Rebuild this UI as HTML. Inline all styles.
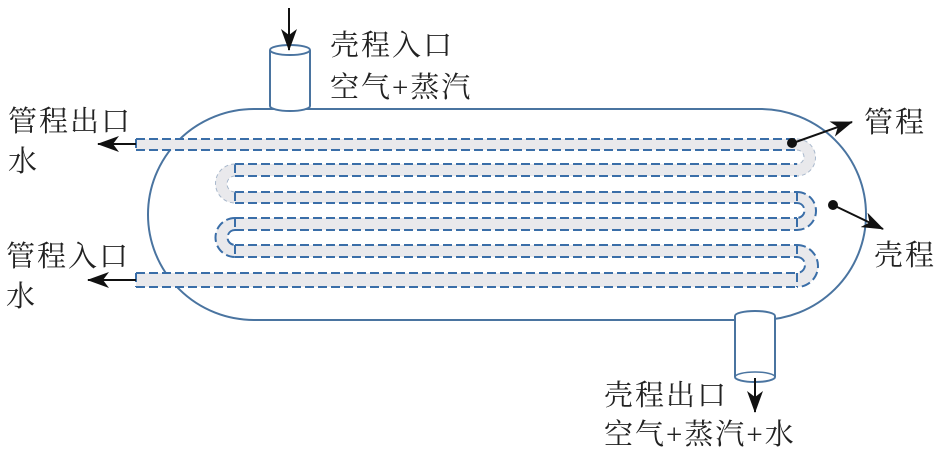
<!DOCTYPE html>
<html><head><meta charset="utf-8"><style>
html,body{margin:0;padding:0;background:#fff;}
svg{display:block;}
text{font-family:"Liberation Serif","Noto Serif CJK SC",serif;font-size:29px;fill:#222;letter-spacing:2px;}
</style></head><body>
<svg width="945" height="461" viewBox="0 0 945 461" xmlns="http://www.w3.org/2000/svg">
<defs>
<marker id="ah2" markerWidth="22" markerHeight="16" refX="21" refY="8" orient="auto" markerUnits="userSpaceOnUse">
<path d="M0,0 L22,8 L0,16 L6,8 Z" fill="#111"/>
</marker>
</defs>
<rect x="148" y="109" width="718" height="211" rx="106" ry="106" fill="#fff" stroke="#4a74a0" stroke-width="2"/>

<g fill="#e9e9ec">
<path d="M797,139 A18.5,18.5 0 0 1 797,176 L797,164 A6,6 0 0 0 797,150 Z"/>
<path d="M235,164 A19.5,19.5 0 0 0 235,203 L235,192 A8,8 0 0 1 235,176 Z"/>
<path d="M797,192 A19,19 0 0 1 797,230 L797,218 A7.5,7.5 0 0 0 797,203 Z"/>
<path d="M235,218 A19.5,19.5 0 0 0 235,257 L235,245 A7.5,7.5 0 0 1 235,230 Z"/>
<path d="M797,245 A21,21 0 0 1 797,287 L797,273 A8,8 0 0 0 797,257 Z"/>
<rect x="136" y="139" width="661" height="11"/>
<rect x="235" y="164" width="562" height="12"/>
<rect x="235" y="192" width="562" height="11"/>
<rect x="235" y="218" width="562" height="12"/>
<rect x="235" y="245" width="562" height="12"/>
<rect x="136" y="273" width="661" height="14"/>
</g>
<g stroke="#3a6ea8" stroke-width="2" stroke-dasharray="9,4" fill="none">
<path d="M136,139 H797 M136,150 H797 M235,164 H797 M235,176 H797 M235,192 H797 M235,203 H797 M235,218 H797 M235,230 H797 M235,245 H797 M235,257 H797 M136,273 H797 M136,287 H797"/>
<path d="M136,139 V150 M136,273 V287 M235,164 V176 M235,192 V203 M235,218 V230 M235,245 V257 M797,192 V203 M797,218 V230 M797,245 V257 M797,273 V287"/>
<path d="M797,192 A19,19 0 0 1 797,230 M797,203 A7.5,7.5 0 0 1 797,218"/>
<path d="M235,218 A19.5,19.5 0 0 0 235,257 M235,230 A7.5,7.5 0 0 0 235,245"/>
<path d="M797,245 A21,21 0 0 1 797,287 M797,257 A8,8 0 0 1 797,273"/>
</g>
<g stroke="#a8b8cc" stroke-width="1" stroke-dasharray="4,3" fill="none">
<path d="M797,139 A18.5,18.5 0 0 1 797,176 M797,150 A6,6 0 0 1 797,164"/>
<path d="M235,164 A19.5,19.5 0 0 0 235,203 M235,176 A8,8 0 0 0 235,192"/>
</g>

<path d="M270,50 V106 A20,5 0 0 0 310,106 V50" fill="#fff" stroke="#4a74a0" stroke-width="2"/>
<ellipse cx="290" cy="50" rx="20" ry="5" fill="#fff" stroke="#4a74a0" stroke-width="2"/>
<path d="M735,316 V377 A20,5 0 0 0 775,377 V316" fill="#fff" stroke="#4a74a0" stroke-width="2"/>
<path d="M735,316 A20,5 0 0 1 775,316" fill="none" stroke="#4a74a0" stroke-width="2"/>
<path d="M735,377 A20,5 0 0 1 775,377" fill="none" stroke="#4a74a0" stroke-width="1.5"/>

<g stroke="#111" stroke-width="2" fill="none">
<line x1="289" y1="8" x2="289" y2="50" marker-end="url(#ah2)"/>
<line x1="755" y1="378" x2="755" y2="412" marker-end="url(#ah2)"/>
<line x1="136" y1="144" x2="98" y2="144" marker-end="url(#ah2)"/>
<line x1="136" y1="280" x2="88" y2="280" marker-end="url(#ah2)"/>
<line x1="793" y1="143" x2="852" y2="122" marker-end="url(#ah2)"/>
<line x1="833" y1="205" x2="883" y2="229" marker-end="url(#ah2)"/>
</g>
<circle cx="792" cy="143" r="5" fill="#111"/>
<circle cx="833" cy="205" r="5" fill="#111"/>

<text x="330" y="55">壳程入口</text>
<text x="330" y="97">空气+蒸汽</text>
<text x="8" y="131">管程出口</text>
<text x="8" y="171">水</text>
<text x="6" y="266">管程入口</text>
<text x="6" y="306">水</text>
<text x="864" y="132">管程</text>
<text x="874" y="265">壳程</text>
<text x="604" y="405">壳程出口</text>
<text x="604" y="444">空气+蒸汽+水</text>
</svg>
</body></html>
